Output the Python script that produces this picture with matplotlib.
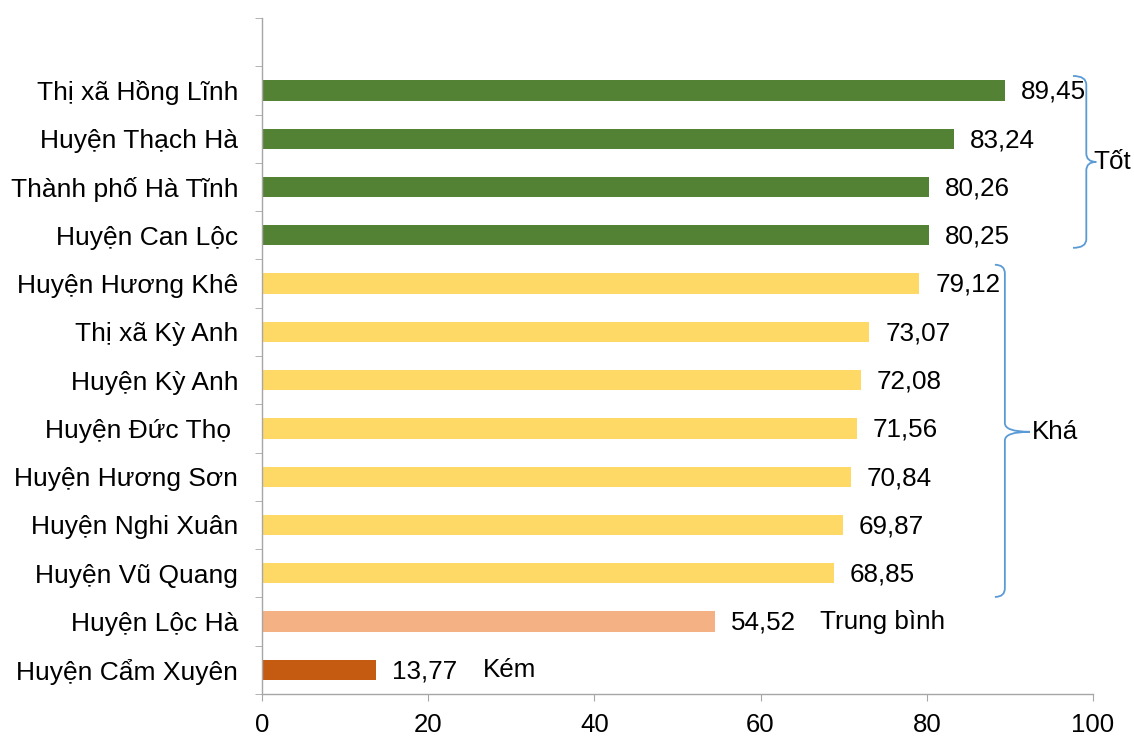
import matplotlib.pyplot as plt
from matplotlib.path import Path
from matplotlib.patches import PathPatch

plt.rcParams['font.family'] = ['Liberation Sans', 'DejaVu Sans']

# Districts and index scores (top to bottom)
districts = ["Thị xã Hồng Lĩnh", "Huyện Thạch Hà", "Thành phố Hà Tĩnh", "Huyện Can Lộc",
             "Huyện Hương Khê", "Thị xã Kỳ Anh", "Huyện Kỳ Anh", "Huyện Đức Thọ ",
             "Huyện Hương Sơn", "Huyện Nghi Xuân", "Huyện Vũ Quang", "Huyện Lộc Hà",
             "Huyện Cẩm Xuyên"]
scores = [89.45, 83.24, 80.26, 80.25, 79.12, 73.07, 72.08, 71.56, 70.84, 69.87, 68.85,
          54.52, 13.77]
groups = ["Tốt"] * 4 + ["Khá"] * 7 + ["Trung bình", "Kém"]
group_colors = {"Tốt": "#548235", "Khá": "#FFD966", "Trung bình": "#F4B183", "Kém": "#C55A11"}
xticks = [0, 20, 40, 60, 80, 100]

fig = plt.figure(figsize=(11.34, 7.36), dpi=100)
ax = fig.add_axes([0.231, 0.0571, 0.7328, 0.9184])

pos = list(range(1, len(districts) + 1))
ax.barh(pos, scores, height=0.42, color=[group_colors[g] for g in groups])

for p, v in zip(pos, scores):
    ax.annotate(f"{v:.2f}".replace(".", ","), (v, p), xytext=(11.5, -1),
                textcoords="offset points", va="center", ha="left", fontsize=18.7)

ax.set_xlim(0, 100)
ax.set_ylim(len(districts) + 0.5, -0.5)
ax.set_xticks(xticks)
ax.set_xticklabels([str(t) for t in xticks], fontsize=18.5)
ax.set_yticks(pos)
ax.set_yticklabels(districts, fontsize=19)
ax.set_yticks([i - 0.5 for i in range(len(districts) + 2)], minor=True)
ax.tick_params(axis="y", which="major", length=0, pad=17)
ax.tick_params(axis="y", which="minor", length=5, color="#A6A6A6", direction="out")
ax.tick_params(axis="x", length=5, color="#A6A6A6", pad=9)

for s in ["top", "right"]:
    ax.spines[s].set_visible(False)
for s in ["left", "bottom"]:
    ax.spines[s].set_color("#A6A6A6")
    ax.spines[s].set_linewidth(1.0)


def brace(ax, x0, xv, xtip, ytop, ybot, ymid, r=0.18):
    verts = [(x0, ytop), (xv, ytop), (xv, ytop + r),
             (xv, ymid - r), (xv, ymid), (xtip, ymid),
             (xv, ymid), (xv, ymid + r),
             (xv, ybot - r), (xv, ybot), (x0, ybot)]
    codes = [Path.MOVETO, Path.CURVE3, Path.CURVE3,
             Path.LINETO, Path.CURVE3, Path.CURVE3,
             Path.CURVE3, Path.CURVE3,
             Path.LINETO, Path.CURVE3, Path.CURVE3]
    ax.add_patch(PathPatch(Path(verts, codes), fill=False, edgecolor="#5B9BD5",
                           linewidth=1.3, clip_on=False))


# Group brackets and category labels
brace(ax, 97.6, 99.2, 100.4, 0.70, 4.26, 2.48)
ax.text(100.1, 2.48, "Tốt", fontsize=18.7, va="center", ha="left")
brace(ax, 88.2, 89.4, 92.4, 4.61, 11.49, 8.07)
ax.text(92.6, 8.07, "Khá", fontsize=18.7, va="center", ha="left")
ax.text(67.1, 12, "Trung bình", fontsize=18.7, va="center", ha="left")
ax.text(26.6, 13, "Kém", fontsize=18.7, va="center", ha="left")

fig.savefig("out.png", dpi=100)
